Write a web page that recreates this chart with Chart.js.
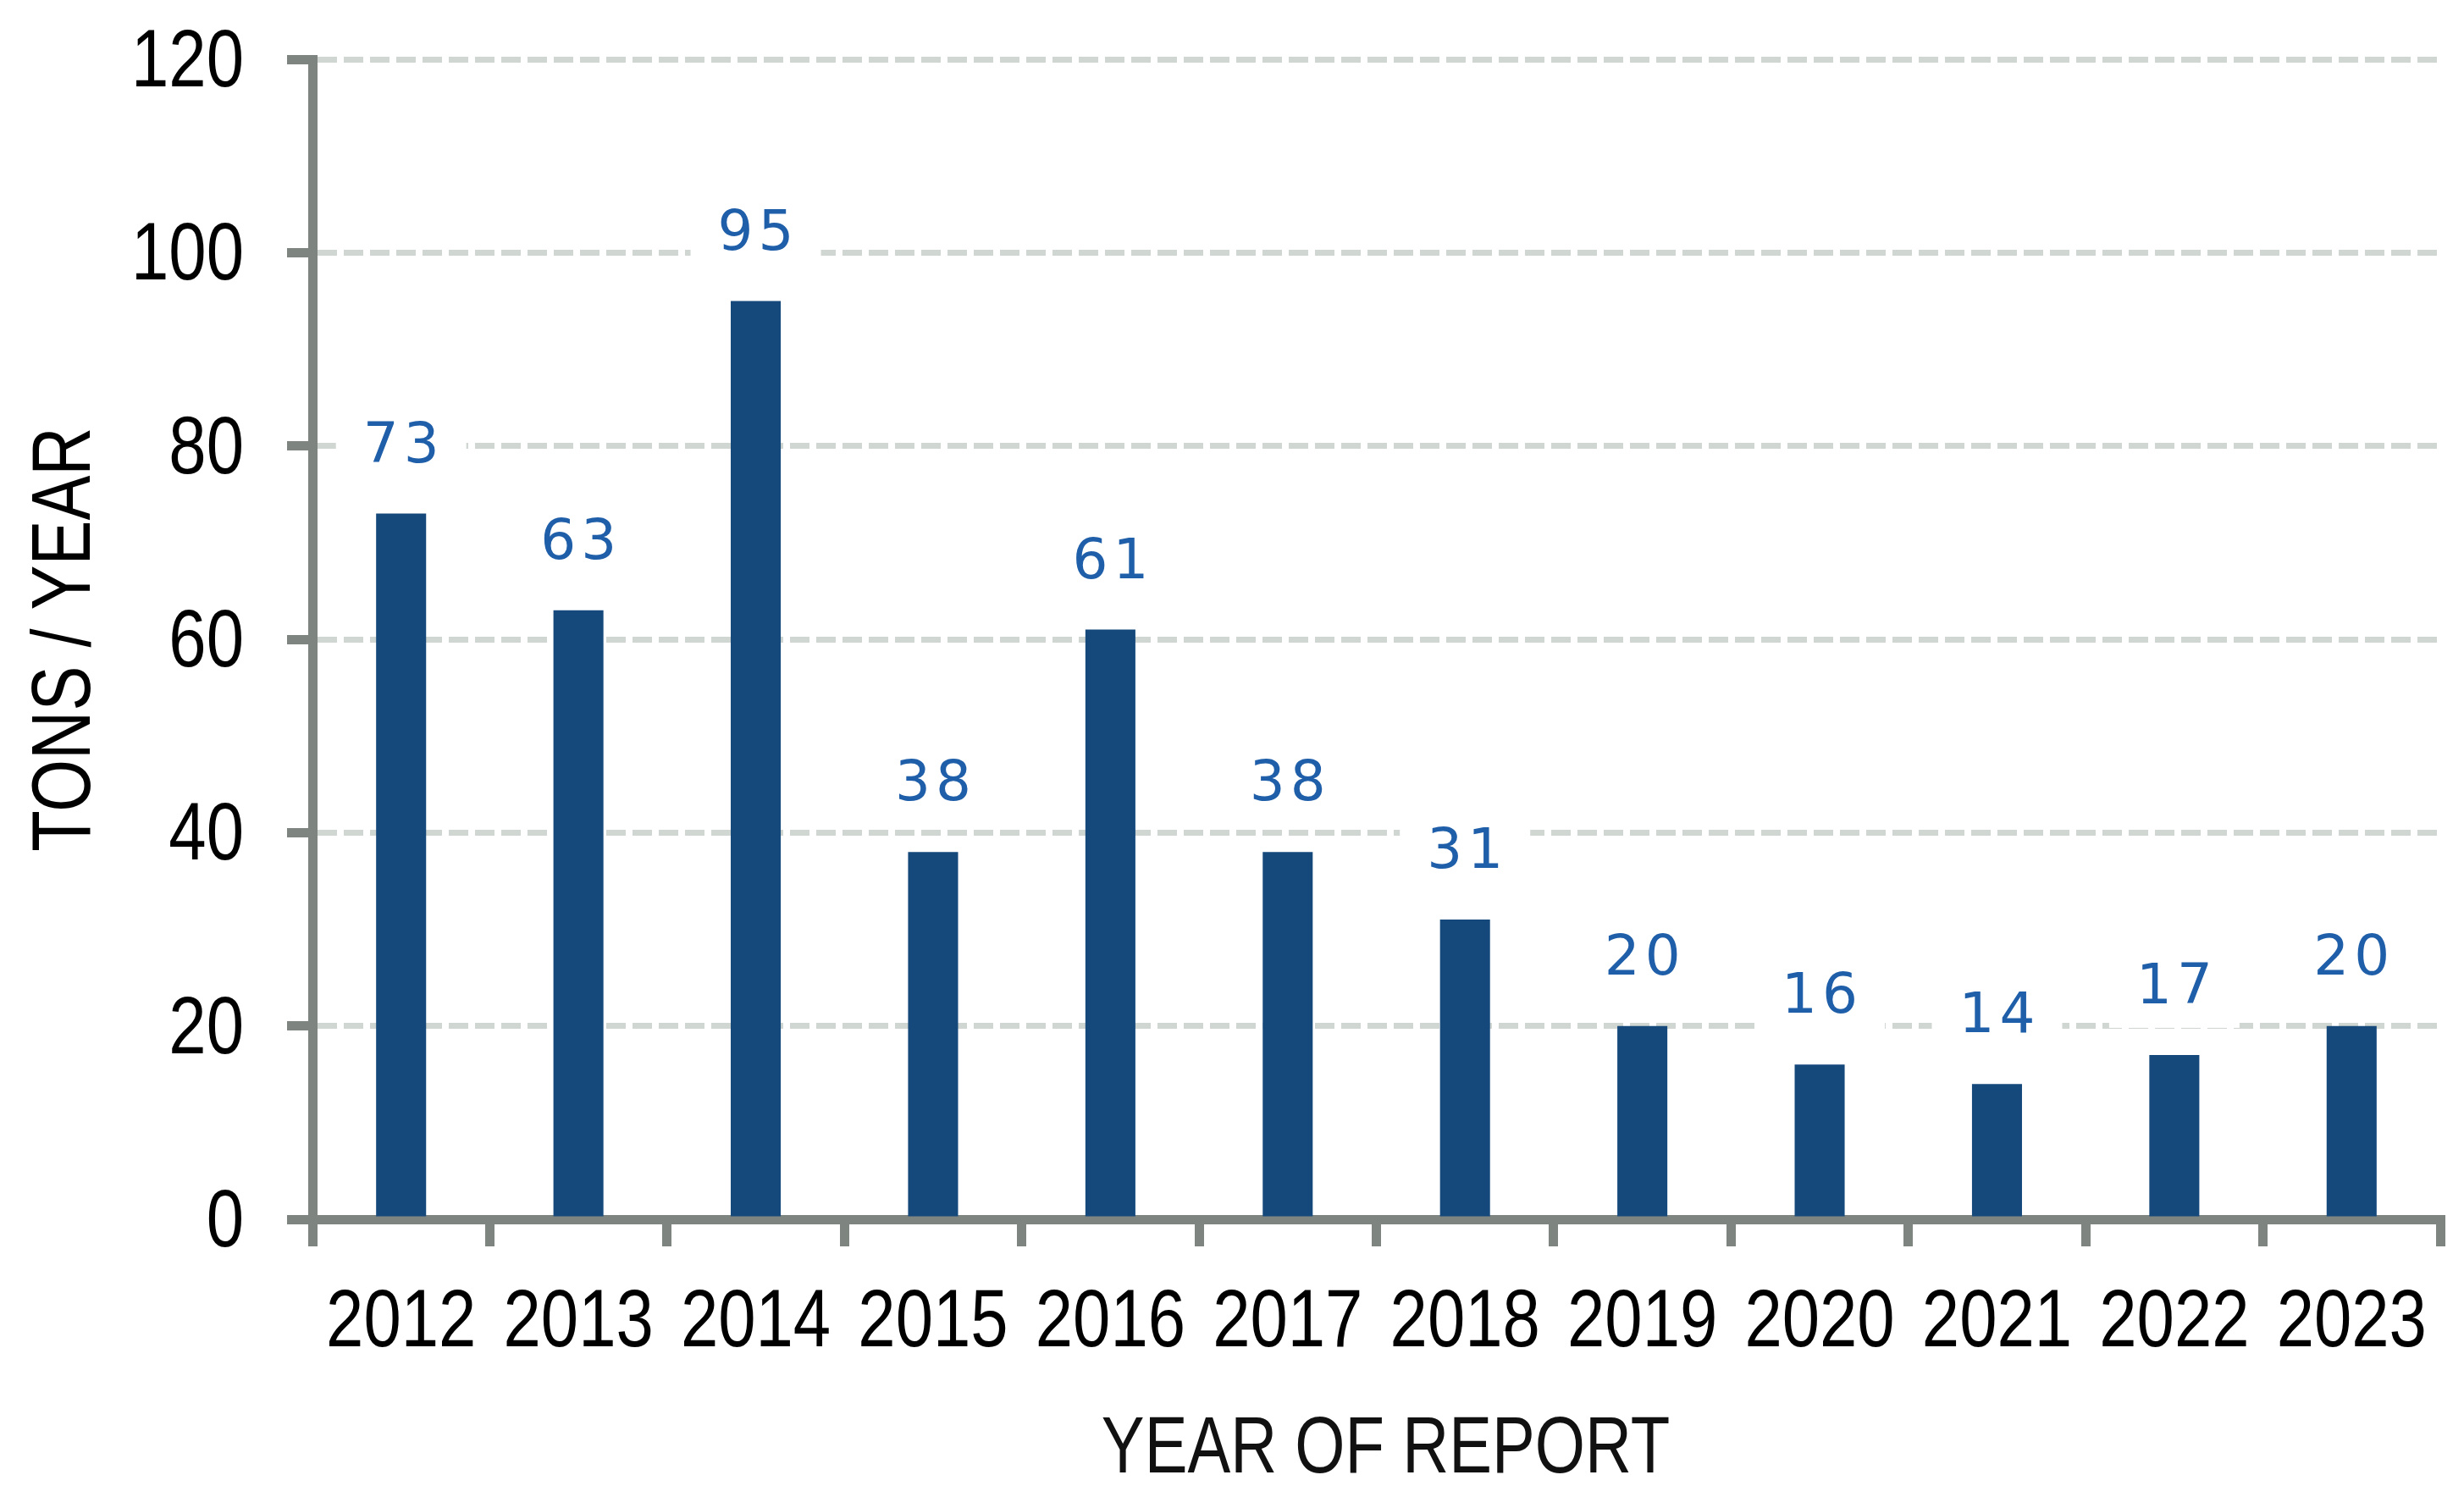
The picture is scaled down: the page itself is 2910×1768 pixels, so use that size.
<!DOCTYPE html>
<html>
<head>
<meta charset="utf-8">
<script src="https://cdn.jsdelivr.net/npm/chart.js@4.4.1/dist/chart.umd.min.js"></script>
<style>
  html, body { margin: 0; padding: 0; background: #ffffff; }
  #wrap { width: 2910px; height: 1768px; }
</style>
</head>
<body>
<div id="wrap"><canvas id="c" width="2910" height="1768"></canvas></div>
<script>
// ---- data ----
const categories = ['2012', '2013', '2014', '2015', '2016', '2017', '2018', '2019', '2020', '2021', '2022', '2023'];
const tonsPerYear = [73, 63, 95, 38, 61, 38, 31, 20, 16, 14, 17, 20];
const yTickValues = [0, 20, 40, 60, 80, 100, 120];
const yAxisTitle = 'TONS / YEAR';
const xAxisTitle = 'YEAR OF REPORT';

// ---- styles ----
const SANS = '"Liberation Sans", Arial, sans-serif';
const AXIS_COLOR = '#7e8580';
const GRID_COLOR = '#d0d6d1';
const BAR_COLOR = '#15497c';
const LABEL_COLOR = '#1f5ea8';
const NARROW_TICK = 0.83;   // horizontal squeeze to mimic a narrow face
const NARROW_TITLE = 0.81;

function narrowText(ctx, text, x, y, sx, align, rotate) {
  ctx.save();
  ctx.translate(x, y);
  if (rotate) ctx.rotate(rotate);
  ctx.scale(sx, 1);
  ctx.textAlign = align;
  ctx.textBaseline = 'alphabetic';
  ctx.fillText(text, 0, 0);
  ctx.restore();
}

// axis tick labels and titles, placed from the library's own scales
const axisText = {
  id: 'axisText',
  afterDraw(chart) {
    const ctx = chart.ctx;
    const xs = chart.scales.x, ys = chart.scales.y;
    const area = chart.chartArea;
    ctx.save();
    ctx.fillStyle = '#000000';
    ctx.font = '96px ' + SANS;
    xs.ticks.forEach((t, i) => {
      narrowText(ctx, xs.getLabelForValue(t.value), xs.getPixelForTick(i), area.bottom + 150, NARROW_TICK, 'center');
    });
    ys.ticks.forEach((t) => {
      narrowText(ctx, String(t.value), area.left - 81, ys.getPixelForValue(t.value) + 32, NARROW_TICK, 'right');
    });
    ctx.fillStyle = '#111111';
    ctx.font = '94px ' + SANS;
    narrowText(ctx, xAxisTitle, (area.left + area.right) / 2 + 11, area.bottom + 299, NARROW_TITLE, 'center');
    ctx.fillStyle = '#000000';
    ctx.font = '98px ' + SANS;
    narrowText(ctx, yAxisTitle, 106, (area.top + area.bottom) / 2, NARROW_TITLE, 'center', -Math.PI / 2);
    ctx.restore();
  }
};

const valueLabels = {
  id: 'valueLabels',
  afterDatasetsDraw(chart) {
    const ctx = chart.ctx;
    const meta = chart.getDatasetMeta(0);
    const spacing = 6;
    ctx.save();
    ctx.font = '66px "DejaVu Sans"';
    ctx.letterSpacing = spacing + 'px';
    ctx.textBaseline = 'middle';
    ctx.textAlign = 'left';
    meta.data.forEach((bar, i) => {
      const txt = String(tonsPerYear[i]);
      const w = ctx.measureText(txt).width - spacing;
      const cx = bar.x, cy = bar.y - 78;
      ctx.fillStyle = '#ffffff';
      ctx.fillRect(cx - w / 2 - 32, cy - 46, w + 64, 92);
      ctx.fillStyle = LABEL_COLOR;
      ctx.fillText(txt, cx - w / 2, cy);
    });
    ctx.restore();
  }
};

new Chart(document.getElementById('c'), {
  type: 'bar',
  data: {
    labels: categories,
    datasets: [{
      data: tonsPerYear,
      backgroundColor: BAR_COLOR,
      borderWidth: 0,
      barPercentage: 0.282,
      categoryPercentage: 1.0
    }]
  },
  options: {
    responsive: false,
    devicePixelRatio: 1,
    animation: false,
    layout: { padding: { left: 0, right: 28, top: 70, bottom: 0 } },
    plugins: {
      legend: { display: false },
      tooltip: { enabled: false },
      title: { display: false }
    },
    scales: {
      x: {
        offset: true,
        afterFit: s => { s.height = 328; s.paddingLeft = 0; s.paddingRight = 0; },
        grid: {
          offset: true,
          drawOnChartArea: false,
          drawTicks: true,
          tickLength: 32,
          tickWidth: 11,
          tickColor: AXIS_COLOR,
          lineWidth: 11,
          color: AXIS_COLOR
        },
        border: { display: true, color: AXIS_COLOR, width: 11 },
        ticks: { display: false, autoSkip: false, maxRotation: 0 },
        title: { display: false }
      },
      y: {
        min: 0,
        max: 120,
        afterFit: s => { s.width = 369; s.paddingTop = 0; s.paddingBottom = 0; },
        afterBuildTicks: s => { s.ticks = yTickValues.map(v => ({ value: v })); },
        grid: {
          drawOnChartArea: true,
          drawTicks: true,
          tickLength: 30,
          tickWidth: 11,
          tickColor: AXIS_COLOR,
          tickBorderDash: [],
          lineWidth: 7,
          color: GRID_COLOR
        },
        border: { display: true, color: AXIS_COLOR, width: 11, dash: [23, 8] },
        ticks: { display: false },
        title: { display: false }
      }
    }
  },
  plugins: [valueLabels, axisText]
});
</script>
</body>
</html>
